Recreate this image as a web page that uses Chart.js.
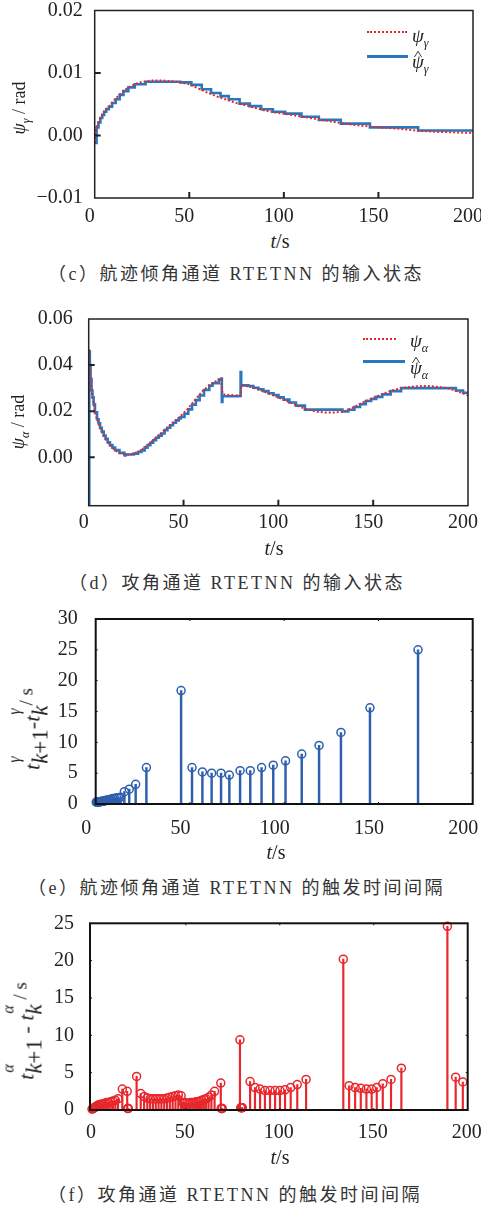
<!DOCTYPE html>
<html><head><meta charset="utf-8">
<script src="https://cdn.jsdelivr.net/npm/chart.js@4.4.1/dist/chart.umd.min.js"></script>
<style>
html,body{margin:0;padding:0;background:#fff;}
body{width:481px;height:1208px;position:relative;overflow:hidden;font-family:'Liberation Serif','Times New Roman',serif;color:#222;}
canvas{position:absolute;left:0;}
.t{position:absolute;white-space:nowrap;line-height:1;transform:translate(-50%,-50%);}
.ax{font-size:20px;}
.cap{position:absolute;white-space:nowrap;line-height:1;transform:translateY(-50%);font-size:18px;letter-spacing:2.5px;font-family:'Liberation Serif','Noto Sans CJK SC',serif;color:#333;}
.yl{transform:translate(-50%,-50%) rotate(-90deg);font-size:18px;}
.sb{font-size:12px;font-style:italic;position:relative;top:5px;}
.lgline{position:absolute;height:0;}
.lgt{position:absolute;white-space:nowrap;line-height:1;font-size:19px;transform:translateY(-50%);}
.hat{position:relative;display:inline-block;}
.cf{position:absolute;left:3px;top:-4px;font-style:normal;font-size:13px;transform:scaleX(1.4);}
.st{position:relative;display:inline-block;}
.sd{position:relative;top:8px;font-size:23px;}
.su{position:absolute;left:1px;top:-14px;font-size:16px;font-style:italic;}
.s2{position:relative;top:-7px;font-size:19px;}
.ylb{transform:translate(-50%,-50%) rotate(-90deg);font-size:22px;}
</style>
</head><body>
<canvas id="cC" width="481" height="230" style="top:0px"></canvas>
<canvas id="cD" width="481" height="240" style="top:300px"></canvas>
<canvas id="cE" width="481" height="240" style="top:600px"></canvas>
<canvas id="cF" width="481" height="250" style="top:900px"></canvas>

<!-- (c) -->
<div class="t yl" style="left:19px;top:108px"><i>ψ</i><span class="sb">γ</span> / rad</div>
<div class="t ax" style="left:280px;top:241px"><i>t</i>/s</div>
<div class="cap" style="left:48px;top:274px">（c）航迹倾角通道 RTETNN 的输入状态</div>
<div class="lgline" style="left:367px;top:31px;width:40px;border-top:2px dotted #e8262b"></div>
<div class="lgt" style="left:412px;top:35px"><i>ψ</i><span class="sb">γ</span></div>
<div class="lgline" style="left:367px;top:55px;width:41px;border-top:3px solid #2878c0"></div>
<div class="lgt" style="left:412px;top:61px"><span class="hat"><i>ψ</i><span class="cf">^</span></span><span class="sb">γ</span></div>

<!-- (d) -->
<div class="t yl" style="left:18px;top:422px"><i>ψ</i><span class="sb">α</span> / rad</div>
<div class="t ax" style="left:274px;top:548px"><i>t</i>/s</div>
<div class="cap" style="left:69px;top:583px">（d）攻角通道 RTETNN 的输入状态</div>
<div class="lgline" style="left:363px;top:338px;width:33px;border-top:2px dotted #e8262b"></div>
<div class="lgt" style="left:410px;top:340px"><i>ψ</i><span class="sb">α</span></div>
<div class="lgline" style="left:363px;top:360px;width:42px;border-top:3px solid #2878c0"></div>
<div class="lgt" style="left:410px;top:367px"><span class="hat"><i>ψ</i><span class="cf">^</span></span><span class="sb">α</span></div>

<!-- (e) -->
<div class="t ylb" style="left:32px;top:729px"><i>t</i><span class="st"><span class="sd"><i>k</i>+1</span><span class="su">γ</span></span>-<i>t</i><span class="st"><span class="sd"><i>k</i></span><span class="su">γ</span></span><span class="s2">/ s</span></div>
<div class="t ax" style="left:276px;top:852px"><i>t</i>/s</div>
<div class="cap" style="left:28px;top:888px">（e）航迹倾角通道 RTETNN 的触发时间间隔</div>

<!-- (f) -->
<div class="t ylb" style="left:26px;top:1031px"><i>t</i><span class="st"><span class="sd"><i>k</i>+1</span><span class="su">α</span></span> - <i>t</i><span class="st"><span class="sd"><i>k</i></span><span class="su">α</span></span><span class="s2"> / s</span></div>
<div class="t ax" style="left:280px;top:1157px"><i>t</i>/s</div>
<div class="cap" style="left:48px;top:1195px">（f）攻角通道 RTETNN 的触发时间间隔</div>

<script>
// ---------- shared ----------
const xTicks = [0, 50, 100, 150, 200];

// ---------- (c) flight-path channel input state ----------
const yTicksC = [-0.01, 0, 0.01, 0.02];
const yLabelsC = ['\u22120.01', '0.00', '0.01', '0.02'];
const tPsiG = [0,0.5,1,2,3,4,5,6,7,8,10,12,14,16,18,20,22,24,26,28,30,33,36,40,45,50,55,60,65,70,75,80,85,90,95,100,110,120,130,140,150,160,170,180,190,200];
const psiG  = [-0.0012,0.0004,0.0013,0.0021,0.0028,0.0033,0.0038,0.0042,0.0045,0.0048,0.0055,0.0062,0.0068,0.0073,0.0077,0.0080,0.0083,0.0085,0.0086,0.0087,0.0088,0.0088,0.0088,0.0087,0.0085,0.0082,0.0075,0.0068,0.0062,0.0057,0.0052,0.0048,0.0044,0.0040,0.0037,0.0035,0.0030,0.0025,0.0020,0.0016,0.0013,0.0011,0.0008,0.0006,0.0005,0.0004];
const tPsiGHat = [0,1,2,3,4,5,6.1,7.5,9.2,11.1,13.2,15.2,17.8,21.2,26.9,45.3,51.1,56.6,61.5,66.5,70.9,76.6,82.0,88.0,94.2,100.7,109.3,118.5,130.1,145.5,171.0,200];
const psiGHat  = [-0.0012,0.0013,0.0021,0.0028,0.0033,0.0038,0.0042,0.0046,0.0052,0.0058,0.0065,0.0071,0.0077,0.0082,0.0086,0.0085,0.0081,0.0074,0.0068,0.0063,0.0058,0.0051,0.0047,0.0042,0.0038,0.0035,0.0030,0.0025,0.0019,0.0013,0.0008,0.0008];

// ---------- (d) angle-of-attack channel input state ----------
const yTicksD = [0, 0.02, 0.04, 0.06];
const yLabelsD = ['0.00', '0.02', '0.04', '0.06'];
const tPsiA = [0,0.5,1,1.5,2,3,4,6,8,10,12,14,16,18,20,22,24,27,30,33,36,40,44,48,52,56,60,63,66,68,70,70.5,72,75,78,80,80.5,82,85,90,95,100,105,110,115,120,125,130,135,140,145,150,155,160,165,170,175,180,185,190,195,200];
const psiA  = [0.047,0.040,0.034,0.029,0.026,0.021,0.0175,0.0128,0.0092,0.0065,0.0045,0.0030,0.0020,0.0014,0.0012,0.0013,0.0017,0.0027,0.0045,0.0066,0.0088,0.0118,0.0147,0.0175,0.0208,0.0248,0.0287,0.0308,0.0325,0.0335,0.0342,0.0275,0.0272,0.0270,0.0268,0.0266,0.0312,0.0312,0.0306,0.0293,0.0276,0.0260,0.0242,0.0224,0.0208,0.0198,0.0194,0.0194,0.0200,0.0218,0.0240,0.0258,0.0275,0.0290,0.0300,0.0306,0.0309,0.0309,0.0305,0.0298,0.0285,0.0268];
const tPsiAHat = [0,0.3,0.6,1.0,1.5,2.0,2.6,3.3,4.4,5.2,6.0,6.9,7.9,8.9,10.0,11.2,12.5,13.9,16.2,18.8,19.0,19.4,23.8,26.0,27.8,29.5,31.0,32.5,34.0,35.5,37.0,38.5,40.0,41.5,43.0,44.5,46.0,47.5,48.5,50.5,52.5,54.5,56.5,58.5,60.8,63.6,65.3,68.6,70.0,70.2,70.5,78.8,80.1,80.4,84.2,86.8,89.5,92.1,94.8,97.5,100.1,102.8,105.8,109.3,114.0,133.8,136.9,140.1,143.1,146.1,148.9,151.6,154.8,159.2,164.7,189.2,193.6,197.4,200];
const psiAHat  = [-0.021,0.046,0.040,0.034,0.029,0.026,0.023,0.0195,0.0165,0.0148,0.0128,0.0112,0.0094,0.0080,0.0065,0.0053,0.0042,0.0031,0.0019,0.0013,0.0008,0.0012,0.0016,0.0023,0.0030,0.0042,0.0052,0.0063,0.0074,0.0085,0.0094,0.0103,0.0118,0.0128,0.0139,0.0150,0.0160,0.0168,0.0175,0.0189,0.0208,0.0228,0.0248,0.0268,0.0292,0.0311,0.0321,0.0337,0.0342,0.0240,0.0265,0.0266,0.0370,0.0312,0.0309,0.0302,0.0295,0.0287,0.0278,0.0270,0.0260,0.0250,0.0238,0.0224,0.0207,0.0199,0.0206,0.0218,0.0230,0.0244,0.0253,0.0262,0.0273,0.0287,0.0300,0.0300,0.0290,0.0280,0.0280];

// ---------- (e) flight-path channel trigger intervals ----------
const yTicksE = [0, 5, 10, 15, 20, 25, 30];
const tTrigG = [0.3,0.6,0.9,1.2,1.5,1.85,2.2,2.6,3.0,3.45,3.9,4.4,4.9,5.5,6.1,6.8,7.5,8.3,9.2,10.1,11.1,12.1,13.2,15.2,17.8,21.2,26.9,45.3,51.1,56.6,61.5,66.5,70.9,76.6,82.0,88.0,94.2,100.7,109.3,118.5,130.1,145.5,171.0];
const dTrigG = [0.3,0.3,0.3,0.3,0.3,0.35,0.35,0.4,0.4,0.45,0.45,0.5,0.5,0.6,0.6,0.7,0.7,0.8,0.9,0.9,1.0,1.0,1.1,2.0,2.4,3.2,5.9,18.4,5.9,5.2,5.0,5.0,4.7,5.4,5.4,5.9,6.3,7.0,8.1,9.5,11.6,15.6,25.0];

// ---------- (f) angle-of-attack channel trigger intervals ----------
const yTicksF = [0, 5, 10, 15, 20, 25];
const tTrigA = [0.1,0.3,0.5,0.7,0.9,1.2,1.5,1.9,2.4,3.0,3.7,4.4,5.2,6.0,6.9,7.9,8.9,10.0,11.2,12.5,13.9,16.2,18.8,19.0,19.2,19.4,23.8,26.0,27.8,29.5,31.0,32.5,34.0,35.5,37.0,38.5,40.0,41.5,43.0,44.5,46.0,47.5,48.5,49.5,50.5,51.5,52.5,53.5,54.5,55.5,56.5,57.5,58.5,59.6,60.8,62.1,63.6,65.3,68.6,68.8,69.0,69.2,69.4,78.8,79.2,79.5,79.8,80.1,84.2,86.8,89.5,92.1,94.8,97.5,100.1,102.8,105.8,109.3,114.0,133.8,136.9,140.1,143.1,146.1,148.9,151.6,154.8,159.2,164.7,189.2,193.6,197.4];
const dTrigA = [0.1,0.2,0.2,0.2,0.2,0.3,0.3,0.4,0.5,0.6,0.7,0.7,0.8,0.8,0.9,1.0,1.0,1.1,1.2,1.3,1.5,2.8,2.5,0.2,0.2,0.2,4.5,2.2,1.8,1.6,1.5,1.5,1.5,1.5,1.5,1.5,1.6,1.7,1.8,1.9,2.0,1.9,1.0,1.0,0.9,0.9,1.0,1.0,1.0,1.1,1.1,1.2,1.3,1.4,1.5,1.7,2.0,2.5,3.6,0.2,0.2,0.2,0.2,9.4,0.3,0.3,0.3,0.3,3.8,3.0,2.8,2.6,2.6,2.6,2.6,2.7,3.0,3.4,4.1,20.2,3.25,3.0,2.9,2.8,2.8,3.0,3.5,4.1,5.6,24.6,4.4,3.75];

// ---------- drawing ----------
Chart.defaults.font.family = "'Liberation Serif', 'Times New Roman', serif";
Chart.defaults.font.size = 20;
Chart.defaults.color = '#222';

const frameTicks = {
  id: 'frameTicks',
  afterDraw(chart, args, o) {
    const {ctx, chartArea: a} = chart;
    const xs = chart.scales.x, ys = chart.scales.y;
    ctx.save();
    ctx.strokeStyle = o.color;
    ctx.lineWidth = o.tickWidth;
    ctx.beginPath();
    xs.ticks.forEach(tk => {
      const p = xs.getPixelForValue(tk.value);
      if (p <= a.left + 2 || p >= a.right - 2) return;
      ctx.moveTo(p, a.bottom); ctx.lineTo(p, a.bottom - o.len);
      if (o.mirror) { ctx.moveTo(p, a.top); ctx.lineTo(p, a.top + o.len); }
    });
    ys.ticks.forEach(tk => {
      const p = ys.getPixelForValue(tk.value);
      if (p <= a.top + 2 || p >= a.bottom - 2) return;
      ctx.moveTo(a.left, p); ctx.lineTo(a.left + o.len, p);
      if (o.mirror) { ctx.moveTo(a.right, p); ctx.lineTo(a.right - o.len, p); }
    });
    ctx.stroke();
    ctx.lineWidth = o.width;
    ctx.strokeRect(a.left, a.top, a.right - a.left, a.bottom - a.top);
    ctx.restore();
  }
};

function makeOptions(o) {
  return {
    responsive: false, maintainAspectRatio: false, animation: false, events: [], devicePixelRatio: 1,
    layout: {padding: {left: 0, right: 481 - o.R, top: o.A, bottom: 0}},
    plugins: {legend: {display: false}, tooltip: {enabled: false}, frameTicks: o.frame},
    scales: {
      x: {
        type: 'linear', min: o.xmin, max: o.xmax, offset: false,
        afterBuildTicks: s => { s.ticks = xTicks.map(v => ({value: v})); },
        afterFit: s => { s.height = o.H - o.B; s.paddingLeft = 0; s.paddingRight = 0; },
        grid: {display: false, drawTicks: false}, border: {display: false},
        ticks: {padding: o.xPad, labelOffset: o.xOff, autoSkip: false, maxRotation: 0, minRotation: 0,
                color: '#222', font: {size: 20}, callback: v => String(v)}
      },
      y: {
        type: 'linear', min: o.ymin, max: o.ymax,
        afterBuildTicks: s => { s.ticks = o.yTicks.map(v => ({value: v})); },
        afterFit: s => { s.width = o.L; s.paddingTop = 0; s.paddingBottom = 0; },
        grid: {display: false, drawTicks: false}, border: {display: false},
        ticks: {padding: o.yPad, autoSkip: false, color: '#222', font: {size: 20},
                callback: (v, i) => o.yLabels[i]}
      }
    }
  };
}

function lineChart(id, o) {
  return new Chart(document.getElementById(id), {
    type: 'line',
    data: {datasets: [
      {data: o.tr.map((t, i) => ({x: t, y: o.r[i]})), borderColor: '#e8262b', borderWidth: 2,
       borderDash: [2, 2], pointRadius: 0, tension: 0, order: 0},
      {data: o.tb.map((t, i) => ({x: t, y: o.b[i]})), borderColor: '#2878c0', borderWidth: 2.6,
       stepped: 'before', pointRadius: 0, order: 1}
    ]},
    options: makeOptions(o),
    plugins: [frameTicks]
  });
}

function stemChart(id, o) {
  return new Chart(document.getElementById(id), {
    type: 'bar',
    data: {datasets: [
      {type: 'scatter', data: o.t.map((t, i) => ({x: t, y: o.d[i]})), pointStyle: 'circle', pointRadius: 4,
       borderColor: o.color, borderWidth: 1.5, backgroundColor: 'rgba(255,255,255,0)', clip: false, order: 0},
      {type: 'bar', data: o.t.map((t, i) => ({x: t, y: o.d[i]})), backgroundColor: o.color,
       barThickness: o.stem, order: 1}
    ]},
    options: makeOptions(o),
    plugins: [frameTicks]
  });
}

lineChart('cC', {tr: tPsiG, r: psiG, tb: tPsiGHat, b: psiGHat,
  xmin: 0, xmax: 200, ymin: -0.01, ymax: 0.02, yTicks: yTicksC, yLabels: yLabelsC,
  L: 94.7, R: 473, A: 10.5, B: 198, H: 230, xPad: 7, yPad: 12, xOff: -5,
  frame: {color: '#222', width: 1.5, tickWidth: 2, len: 6, mirror: false}});

lineChart('cD', {tr: tPsiA, r: psiA, tb: tPsiAHat, b: psiAHat,
  xmin: 0, xmax: 200, ymin: -0.021, ymax: 0.06, yTicks: yTicksD, yLabels: yLabelsD,
  L: 88.7, R: 468, A: 19, B: 205.7, H: 240, xPad: 5, yPad: 16, xOff: -5,
  frame: {color: '#222', width: 1.5, tickWidth: 2, len: 6, mirror: false}});

stemChart('cE', {t: tTrigG, d: dTrigG, color: '#2d5fae', stem: 1.8,
  xmin: 0, xmax: 200, ymin: 0, ymax: 30, yTicks: yTicksE, yLabels: yTicksE.map(String),
  L: 95.7, R: 472.7, A: 19, B: 204, H: 240, xPad: 13, yPad: 18, xOff: -9.5,
  frame: {color: '#111', width: 2, tickWidth: 1, len: 2, mirror: true}});

stemChart('cF', {t: tTrigA, d: dTrigA, color: '#e8262b', stem: 1.5,
  xmin: -1, xmax: 200, ymin: 0, ymax: 25, yTicks: yTicksF, yLabels: yTicksF.map(String),
  L: 90, R: 467.7, A: 23.3, B: 210, H: 250, xPad: 11, yPad: 16, xOff: -1,
  frame: {color: '#111', width: 2, tickWidth: 1, len: 2, mirror: true}});
</script>
</body></html>
